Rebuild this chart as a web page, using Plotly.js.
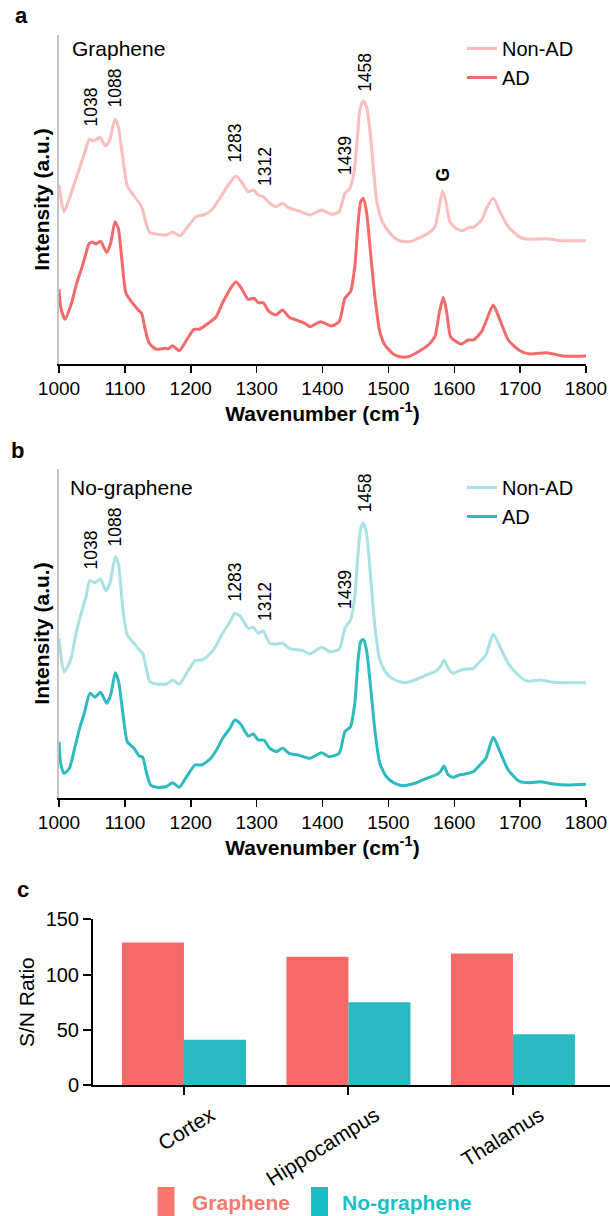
<!DOCTYPE html>
<html>
<head>
<meta charset="utf-8">
<script src="https://cdn.plot.ly/plotly-3.0.1.min.js"></script>
<style>html,body{margin:0;padding:0;background:#fff;}#chart{width:610px;height:1216px;}</style>
</head>
<body>
<div id="chart"></div>
<script>
// ---------- DATA ----------
// Panel a (Graphene) - Non-AD
const aNonAdWn = [1000,1007.6,1021.7,1031.9,1039.5,1046,1052,1056,1062,1071,1077,1085,1090,1096.6,1103.7,1112.8,1123,1127,1132,1138,1148,1163,1172.5,1183.6,1193.7,1207.9,1219,1231.7,1244,1257,1268.6,1277,1287,1295,1302.5,1310,1320,1329,1339,1348,1363,1373,1381,1398.5,1413.7,1425.3,1434,1441.5,1447.6,1452.7,1456.7,1461.8,1466.8,1472,1477,1483,1492,1504.8,1517.5,1532.7,1545.3,1560.5,1570.6,1577.2,1582.3,1587.3,1593.4,1602.5,1612.7,1621.3,1628.9,1641.5,1649,1659.2,1669.4,1682,1699.7,1715,1740,1765.6,1800];
const aNonAdInt = [179,152.3,177.3,197.3,212.3,224.7,223.3,224,226.7,218,224,244.7,237.3,207.3,178,169,160,154,141,131.3,130,129,132,128,135.7,147.3,149,154,165.7,179,188,182.3,172.3,174,169,167.3,160.7,157.3,160.7,156.3,153.3,150.7,149,154,149.7,152.3,170.7,175.7,190.7,224,254,263.3,257.3,234,197.3,160.7,140.7,129,123,122.3,125.7,130.7,137.3,157.3,173.3,162.3,142.3,135.7,133.3,136.3,136.7,144,155.7,165.7,152.3,137.3,126.7,124.7,125.3,123.3,123.3];
// Panel a (Graphene) - AD
const aAdWn = [1000,1002.5,1009,1019,1026.8,1034.4,1039.5,1046,1052,1056,1063,1072.3,1078.4,1085,1090,1095,1101.7,1110,1120.4,1125.4,1130.5,1137,1148,1161,1166,1172.5,1182.6,1193.7,1204.9,1213,1226.6,1238,1248,1260.5,1268.6,1277,1287,1296,1302.5,1310,1319,1329,1339.4,1349.5,1363,1373,1381,1397,1413.7,1425.3,1434,1442.5,1449,1454,1458,1461.8,1466.8,1473,1479.5,1487,1494.7,1507.3,1517.5,1530,1542.8,1560.5,1570.6,1577.2,1583.3,1588.4,1594.4,1603.5,1611,1621.3,1629,1641.5,1649,1659.2,1669.4,1682,1699.7,1715,1740,1765.6,1800];
const aAdInt = [74.7,57.3,44.7,60.7,80.7,95.7,107.3,120.7,121.7,120,122.7,111.7,120.7,142.3,135.7,107.3,70.7,62.3,54,50.7,35.7,20.7,14.7,15.7,15.3,18.3,13.3,24,34.7,34.7,40.7,46.7,60.7,75.7,82.3,75.7,64.7,65.7,61.3,61.3,52.3,49,54,46.7,43.3,40.7,37.3,42.3,38,42.3,65.7,72.3,97.3,140.7,162.3,165.7,152.3,110.7,67.3,32.3,19,10,7.3,7.3,11.3,19,27.3,50.7,66.7,52.3,27.3,22.3,20,24,24,32.3,44,59,44,24,13.3,10,11.3,8,8];
// Panel b (No-graphene) - Non-AD
const bNonAdWn = [1000,1007.6,1017.7,1025.8,1034.4,1041,1047,1054.6,1063,1071.3,1077.4,1085.5,1090.5,1096.6,1103.7,1113.8,1121.9,1127,1132,1138,1148,1163.4,1172.5,1182.6,1193.7,1206.4,1216.5,1229,1239,1248.4,1259.5,1267,1275.6,1287.3,1295,1302.5,1310,1320,1330,1339.4,1349.5,1363,1370.8,1380.8,1398.5,1411,1425.3,1434,1442.5,1449,1454,1458,1461.8,1466.8,1473,1479.5,1487,1497,1509.9,1525,1540,1558,1573,1579,1584.3,1590.9,1598.5,1607.6,1616.2,1628.9,1639,1648,1659.2,1669.4,1682,1697,1710,1730,1750.4,1770.6,1800];
const bNonAdInt = [159.7,126.3,138,164.7,186.3,201.3,217.3,215.3,218.7,207.3,214.7,241.3,233,191.3,163,154.7,148,144.7,131.3,116.3,114,114,118,114,124.7,137.3,138,144,153,164.7,176.3,184.7,181.3,169.7,170.7,164.7,167,154.7,154,154.7,149.7,148,147.3,144,150.7,146.3,148.7,169.7,178,201.3,244.7,269.7,275.3,264.7,221.3,171.3,138,124.7,118,115.3,118,123,127.3,131.3,138,129.7,124.7,127.3,128.7,129.7,136.3,143,164,151.3,134.7,123,117,118,115.7,115.3,115.3];
// Panel b (No-graphene) - AD
const bAdWn = [1000,1002.5,1007.6,1015.7,1024.3,1032,1038.4,1047,1054.6,1063.2,1072.3,1078.4,1085.5,1090.5,1097.6,1103.7,1113.8,1121.9,1127,1133,1139,1148,1162.4,1172.5,1182.6,1193.7,1206.4,1216.5,1229,1239,1249.4,1259.5,1267,1275.6,1287.3,1295,1302.5,1311,1320,1330,1339.4,1349.5,1363,1380.8,1398.5,1410,1425.3,1434,1442.5,1449,1454,1458,1461.8,1466.8,1473,1479.5,1487,1497,1509.9,1522.5,1540,1558,1572,1579,1584.3,1590.9,1598.5,1607.6,1616.2,1628.9,1639,1648,1659.2,1669.4,1682,1699.7,1715,1730,1750.4,1770.6,1800];
const bAdInt = [56.3,34.7,24.7,29.7,51.3,71.3,84.7,104.7,100.7,105.7,94.7,103,125.3,116.3,81.3,56.3,49.7,42,40.7,24.7,13,10.7,11.3,15.3,10.7,21.3,33,33,38.7,48,60.7,69.7,78,74,62,64,58,58,49.7,46.3,49.7,44.7,43,39.7,45.3,41.3,44.7,66.3,71.3,94.7,138,156.3,158.7,148,111.3,68,34.7,21.3,14.7,12.3,14.7,19.7,23,26.3,32,23,20.7,23,24,26.3,33,39.7,60.7,46.3,28,16.3,15.3,16.3,14,13,13.7];
// Peak labels
const peakLabels = ['1038','1088','1283','1312','1439','1458'];
// Panel c (S/N ratio)
const regions = ['Cortex','Hippocampus','Thalamus'];
const snGraphene = [129,116,119];
const snNoGraphene = [41,75,46];
const seriesNames = ['Non-AD','AD'];
const barNames = ['Graphene','No-graphene'];
const xTicks = [1000,1100,1200,1300,1400,1500,1600,1700,1800];

// ---------- LAYOUT HELPERS ----------
const W = 610, H = 1216;
const fx = p => p / W;
const fy = p => 1 - p / H;
const FONT = 'Arial, "Liberation Sans", Helvetica, sans-serif';
const C = {
  aLight: '#F9BEBD', aDark: '#F26B6A',
  bLight: '#A8E2E3', bDark: '#2DBBBF',
  barG: '#F36A68', barN: '#2BBABF',
  legG: '#F9776E', legN: '#1ABFC5'
};

const traces = [
  {x: aNonAdWn, y: aNonAdInt, name: seriesNames[0], type: 'scatter', mode: 'lines',
   line: {color: C.aLight, width: 3, shape: 'spline', smoothing: 0.6}, xaxis: 'x', yaxis: 'y', legend: 'legend'},
  {x: aAdWn, y: aAdInt, name: seriesNames[1], type: 'scatter', mode: 'lines',
   line: {color: C.aDark, width: 3, shape: 'spline', smoothing: 0.6}, xaxis: 'x', yaxis: 'y', legend: 'legend'},
  {x: bNonAdWn, y: bNonAdInt, name: seriesNames[0], type: 'scatter', mode: 'lines',
   line: {color: C.bLight, width: 3, shape: 'spline', smoothing: 0.6}, xaxis: 'x2', yaxis: 'y2', legend: 'legend2'},
  {x: bAdWn, y: bAdInt, name: seriesNames[1], type: 'scatter', mode: 'lines',
   line: {color: C.bDark, width: 3, shape: 'spline', smoothing: 0.6}, xaxis: 'x2', yaxis: 'y2', legend: 'legend2'},
  {x: regions, y: snGraphene, name: barNames[0], type: 'bar', marker: {color: C.barG},
   xaxis: 'x3', yaxis: 'y3', showlegend: false},
  {x: regions, y: snNoGraphene, name: barNames[1], type: 'bar', marker: {color: C.barN},
   xaxis: 'x3', yaxis: 'y3', showlegend: false}
];

function specX(anchor) {
  return {
    domain: [fx(59), fx(586)], range: [1000, 1800], anchor: anchor,
    tickvals: xTicks, ticks: 'outside', ticklen: 7, tickwidth: 1.5, tickcolor: '#000',
    showline: true, linecolor: '#000', linewidth: 1.5, showgrid: false, zeroline: false,
    tickfont: {size: 19, color: '#000', family: FONT},
    title: {text: '<b>Wavenumber (cm<sup>-1</sup>)</b>', font: {size: 21, color: '#000', family: FONT}, standoff: 6}
  };
}
function specY(domain, anchor) {
  return {
    domain: domain, range: [0, 329], anchor: anchor,
    showline: true, linecolor: '#C4C4C4', linewidth: 2, showticklabels: false, ticks: '',
    showgrid: false, zeroline: false,
    title: {text: '<b>Intensity (a.u.)</b>', font: {size: 21, color: '#000', family: FONT}, standoff: 2}
  };
}

// peak label positions (data coords of panel)
const peakXa = [1049.3,1085.7,1267.8,1312.6,1434,1464.3];
const peakYa = [257,276,221,198,209,292];
const peakYb = [248,271,216,197,209,305.5];

const annotations = [];
peakLabels.forEach((t, i) => {
  annotations.push({text: t, x: peakXa[i], y: peakYa[i], xref: 'x', yref: 'y', showarrow: false,
    textangle: -90, font: {size: 17.5, color: '#000', family: FONT}});
  annotations.push({text: t, x: peakXa[i], y: peakYb[i], xref: 'x2', yref: 'y2', showarrow: false,
    textangle: -90, font: {size: 17.5, color: '#000', family: FONT}});
});
annotations.push({text: '<b>G</b>', x: 1583.5, y: 190, xref: 'x', yref: 'y', showarrow: false,
  textangle: -90, font: {size: 17.5, color: '#000', family: FONT}});
// panel letters and panel titles
[['a', 21, 15], ['b', 17, 450], ['c', 23, 889]].forEach(([t, x, y]) => {
  annotations.push({text: '<b>' + t + '</b>', x: fx(x), y: fy(y), xref: 'paper', yref: 'paper',
    showarrow: false, xanchor: 'center', yanchor: 'middle', font: {size: 22, color: '#000', family: FONT}});
});
annotations.push({text: 'Graphene', x: fx(70), y: fy(48), xref: 'paper', yref: 'paper', showarrow: false,
  xanchor: 'left', yanchor: 'middle', font: {size: 21, color: '#000', family: FONT}});
annotations.push({text: 'No-graphene', x: fx(68), y: fy(487), xref: 'paper', yref: 'paper', showarrow: false,
  xanchor: 'left', yanchor: 'middle', font: {size: 21, color: '#000', family: FONT}});
// bottom legend text
annotations.push({text: '<b>' + barNames[0] + '</b>', x: fx(190), y: fy(1202), xref: 'paper', yref: 'paper',
  showarrow: false, xanchor: 'left', yanchor: 'middle', font: {size: 21, color: C.legG, family: FONT}});
annotations.push({text: '<b>' + barNames[1] + '</b>', x: fx(340), y: fy(1202), xref: 'paper', yref: 'paper',
  showarrow: false, xanchor: 'left', yanchor: 'middle', font: {size: 21, color: C.legN, family: FONT}});

const shapes = [
  {type: 'rect', xref: 'paper', yref: 'paper', x0: fx(157.5), x1: fx(174.5), y0: fy(1216), y1: fy(1187),
   fillcolor: C.legG, line: {width: 0}},
  {type: 'rect', xref: 'paper', yref: 'paper', x0: fx(311), x1: fx(328), y0: fy(1216), y1: fy(1187),
   fillcolor: C.legN, line: {width: 0}}
];

const legendBase = {
  xanchor: 'left', yanchor: 'top', bgcolor: 'rgba(0,0,0,0)', borderwidth: 0,
  font: {size: 20, color: '#000', family: FONT}, tracegroupgap: 0, itemwidth: 30
};

const layout = {
  width: W, height: H,
  margin: {l: 0, r: 0, t: 0, b: 0},
  paper_bgcolor: '#fff', plot_bgcolor: 'rgba(0,0,0,0)',
  font: {family: FONT, color: '#000'},
  showlegend: true,
  legend: Object.assign({}, legendBase, {x: fx(462), y: fy(29)}),
  legend2: Object.assign({}, legendBase, {x: fx(462), y: fy(468)}),
  xaxis: specX('y'),
  yaxis: specY([fy(364), fy(35)], 'x'),
  xaxis2: specX('y2'),
  yaxis2: specY([fy(798), fy(469)], 'x2'),
  xaxis3: {
    domain: [fx(93), 1], range: [-0.553, 2.59], anchor: 'y3', type: 'category',
    ticks: 'outside', ticklen: 8, tickwidth: 2, tickcolor: '#000',
    showline: true, linecolor: '#000', linewidth: 2, showgrid: false, zeroline: false,
    tickangle: -32, ticklabelshift: 27, tickfont: {size: 21, color: '#000', family: FONT}
  },
  yaxis3: {
    domain: [fy(1085), fy(919.3)], range: [0, 150], anchor: 'x3',
    tickvals: [0, 50, 100, 150], ticks: 'outside', ticklen: 8, tickwidth: 2, tickcolor: '#000',
    showline: true, linecolor: '#000', linewidth: 2, showgrid: false, zeroline: false,
    tickfont: {size: 20, color: '#000', family: FONT},
    title: {text: 'S/N Ratio', font: {size: 21, color: '#000', family: FONT}, standoff: 5}
  },
  barmode: 'group', bargap: 0.246, bargroupgap: 0,
  annotations: annotations,
  shapes: shapes
};

Plotly.newPlot('chart', traces, layout, {staticPlot: true, displayModeBar: false});
</script>
</body>
</html>
